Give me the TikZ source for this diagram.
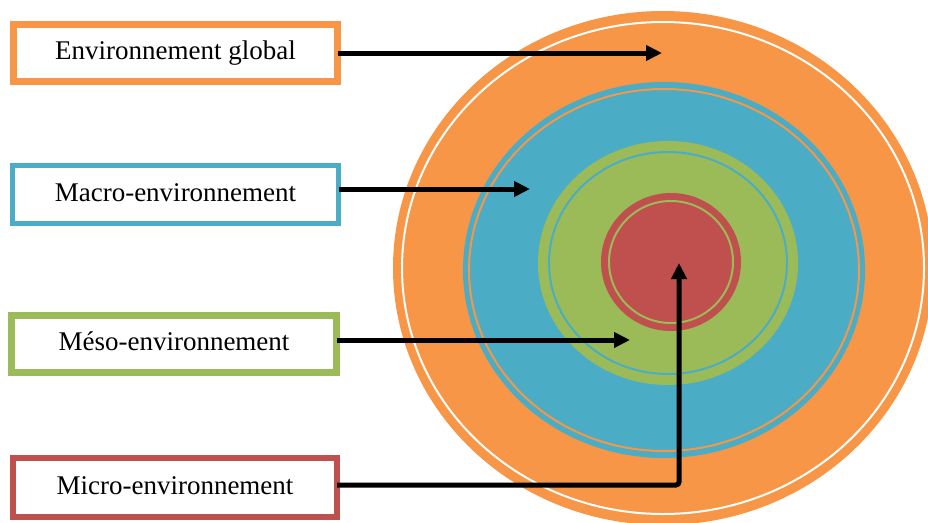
\documentclass[tikz,border=0pt]{standalone}
\usepackage{fontspec}
\setmainfont{Liberation Serif}
\usetikzlibrary{arrows.meta}
\definecolor{cOrange}{HTML}{F79646}
\definecolor{cBlue}{HTML}{4BACC6}
\definecolor{cGreen}{HTML}{9BBB59}
\definecolor{cRed}{HTML}{C0504D}
\tikzset{
  labelbox/.style={draw, fill=white, inner sep=0pt, outer sep=0pt,
    font=\fontsize{27}{32}\selectfont, text height=19pt, text depth=6pt},
  arr/.style={line width=5pt, -{Triangle[length=16pt,width=15pt]}},
  thinring/.style={line width=2pt}
}
\begin{document}
\begin{tikzpicture}[x=1pt,y=-1pt]
\useasboundingbox (0,0) rectangle (928,522);
\clip (0,0) rectangle (928,522);
% concentric rings
\fill[cOrange] (663,268) ellipse [x radius=270, y radius=257];
\draw[white,thinring] (663,268) ellipse [x radius=261, y radius=246];
\fill[cBlue] (664,270) ellipse [x radius=201, y radius=188];
\draw[cOrange,thinring] (664,270) ellipse [x radius=195, y radius=181];
\fill[cGreen] (668,263) ellipse [x radius=130, y radius=122];
\draw[cBlue,thinring] (668,263) ellipse [x radius=119, y radius=111];
\fill[cRed] (671,262) ellipse [x radius=70, y radius=69];
\draw[cGreen,thinring] (671,262) ellipse [x radius=62, y radius=61];
% boxes
\node[labelbox, draw=cOrange, line width=7pt, minimum width=324pt, minimum height=57pt] (b1) at (175.5,53) {Environnement global};
\node[labelbox, draw=cBlue, line width=5.5pt, minimum width=326pt, minimum height=58pt] (b2) at (175.5,194.5) {Macro-environnement};
\node[labelbox, draw=cGreen, line width=7pt, minimum width=325pt, minimum height=57pt] (b3) at (174,344) {Méso-environnement};
\node[labelbox, draw=cRed, line width=6pt, minimum width=324pt, minimum height=59pt] (b4) at (175,487.5) {Micro-environnement};
% arrow targets
\coordinate (t1) at (662,53);
\coordinate (t2) at (530,189);
\coordinate (t3) at (630,340);
\coordinate (c4) at (679,485);
\coordinate (t4) at (679,263);
% connectors
\draw[arr] (b1.east |- t1) -- (t1);
\draw[arr] (b2.east |- t2) -- (t2);
\draw[arr] (b3.east |- t3) -- (t3);
\draw[arr, rounded corners=3pt] (b4.east |- c4) -- (c4) -- (t4);
\end{tikzpicture}
\end{document}
